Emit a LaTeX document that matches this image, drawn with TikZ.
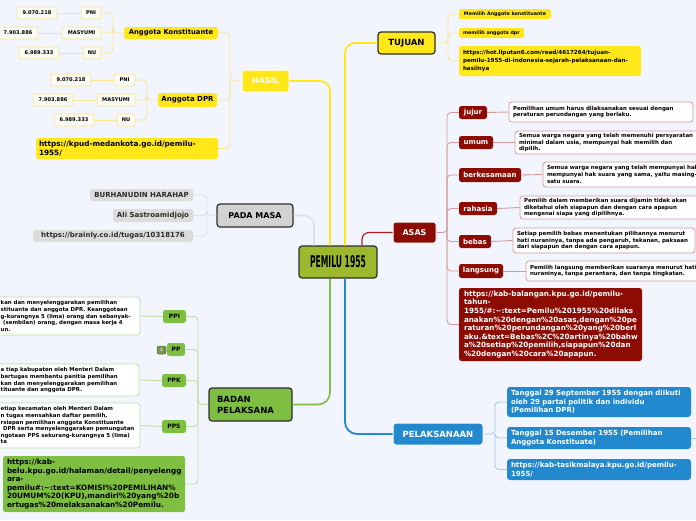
\documentclass[tikz,border=0pt]{standalone}
\usepackage{fontspec}
\setmainfont{DejaVu Sans}
\usepackage{graphicx}
\definecolor{bg}{RGB}{242,245,253}
\definecolor{yel}{RGB}{255,231,25}
\definecolor{yelln}{RGB}{248,230,140}
\definecolor{olive}{RGB}{158,184,46}
\definecolor{dk}{RGB}{45,45,45}
\definecolor{asred}{RGB}{140,12,4}
\definecolor{redln}{RGB}{212,155,155}
\definecolor{redmain}{RGB}{165,35,30}
\definecolor{blu}{RGB}{35,137,206}
\definecolor{bluln}{RGB}{160,200,235}
\definecolor{grn}{RGB}{126,190,64}
\definecolor{grnln}{RGB}{190,222,165}
\definecolor{gry}{RGB}{210,210,210}
\definecolor{gryl}{RGB}{220,220,220}
\definecolor{gryln}{RGB}{222,224,230}
\definecolor{pale}{RGB}{250,250,244}
\definecolor{badgec}{RGB}{118,150,78}
\newcommand{\fsz}[2]{\fontsize{#1}{#2}\selectfont}
\begin{document}
\begin{tikzpicture}[x=1pt,y=-1pt]
\tikzset{
  fnt/.style 2 args={font=\fsz{#1}{#2}\bfseries},
  sz/.style 2 args={minimum width=#1pt, minimum height=#2pt},
  every node/.style={inner sep=0pt, text=black},
  yelbox/.style={fill=yel, rounded corners=2.5pt, align=center},
  mainbox/.style={draw=dk, line width=1.2pt, rounded corners=3pt},
  smb/.style={fill=pale, draw=yelln, line width=0.8pt, rounded corners=2pt, fnt={5.1}{6}, minimum height=12pt},
  gbox/.style={fill=gryl, rounded corners=2.5pt, fnt={7}{8}, text=dk},
  rbox/.style={fill=asred, rounded corners=2.5pt, text=white, fnt={7}{8}},
  rdesc/.style={fill=white, draw=redln, line width=0.8pt, rounded corners=3pt, fnt={5.5}{6.7}, align=left, inner xsep=4pt},
  bbox/.style={fill=blu, rounded corners=3pt, text=white, fnt={7}{8.5}, align=left, inner xsep=4pt},
  gnbox/.style={fill=grn, rounded corners=2.5pt, fnt={6}{7}},
  gdesc/.style={fill=white, draw=grnln, line width=0.8pt, rounded corners=3pt},
  gtext/.style={fnt={5.4}{6.6}, align=left, anchor=north west},
  ymain/.style={draw=yel, line width=1.8pt, rounded corners=10pt},
  gmain/.style={draw=gryln, line width=1.6pt, rounded corners=10pt},
  rmain/.style={draw=redmain, line width=1.2pt, rounded corners=7pt},
  bmain/.style={draw=blu, line width=1.8pt, rounded corners=12pt},
  nmain/.style={draw=grn, line width=1.6pt, rounded corners=12pt},
  ylc/.style={draw=yelln, line width=0.9pt, rounded corners=4pt},
  gyc/.style={draw=gryln, line width=0.9pt, rounded corners=4pt},
  rdc/.style={draw=redln, line width=0.9pt, rounded corners=4pt},
  blc/.style={draw=bluln, line width=0.9pt, rounded corners=4pt},
  gnc/.style={draw=grnln, line width=0.9pt, rounded corners=4pt}
}
\useasboundingbox (0,0) rectangle (696,520);
\fill[bg] (0,0) rectangle (696,520);
\clip (0,0) rectangle (696,520);

% central
\node[mainbox, fill=olive, sz={78}{32}] (central) at (338,262) {\resizebox{56pt}{12pt}{\bfseries PEMILU 1955}};

% TUJUAN
\node[yelbox, mainbox, fnt={8.5}{10}, sz={57}{22}] (tujuan) at (406.5,43) {TUJUAN};
\node[yelbox, fnt={4.8}{5.5}, sz={92}{10}] (t1) at (505,14) {Memilih Anggota konstituante};
\node[yelbox, fnt={4.8}{5.5}, sz={65}{10}] (t2) at (491.5,33) {memilih anggota dpr};
\node[yelbox, fnt={5.6}{8.3}, sz={182}{30}, text width=174pt, align=left] (t3) at (550,61) {https://hot.liputan6.com/read/4617264/tujuan-\\pemilu-1955-di-indonesia-sejarah-pelaksanaan-dan-\\hasilnya};

% HASIL
\node[yelbox, draw=white, line width=1pt, text=white, fnt={8}{10}, sz={47}{22}] (hasil) at (265.5,81) {HASIL};
\node[yelbox, fnt={6.8}{8}, sz={94}{12}] (konst) at (171,33) {Anggota Konstituante};
\node[yelbox, fnt={7}{8}, sz={59}{14}] (dpr) at (187.5,100) {Anggota DPR};
\node[yelbox, fnt={7.3}{8.3}, sz={182}{21}, text width=176pt, align=left] (hurl) at (127,148.5) {https://kpud-medankota.go.id/pemilu-\\1955/};

\node[smb, minimum width=20pt] (kpni) at (91,13) {PNI};
\node[smb, minimum width=39pt] (kmas) at (81.5,33) {MASYUMI};
\node[smb, minimum width=18pt] (knu) at (92,53) {NU};
\node[smb, minimum width=40pt] (kv1) at (37,13) {9.070.218};
\node[smb, minimum width=40pt] (kv2) at (18,33) {7.903.886};
\node[smb, minimum width=40pt] (kv3) at (39,53) {6.989.333};
\node[smb, minimum width=21pt] (dpni) at (124.5,80) {PNI};
\node[smb, minimum width=38pt] (dmas) at (116,100) {MASYUMI};
\node[smb, minimum width=18pt] (dnu) at (126,120) {NU};
\node[smb, minimum width=40pt] (dv1) at (71,80) {9.070.218};
\node[smb, minimum width=40pt] (dv2) at (53,100) {7.903.886};
\node[smb, minimum width=40pt] (dv3) at (74,120) {6.989.333};

% PADA MASA
\node[mainbox, fill=gry, fnt={8}{10}, sz={76}{23}] (padamasa) at (255,215.5) {PADA MASA};
\node[gbox, sz={103}{12}] (p1) at (141.5,195) {BURHANUDIN HARAHAP};
\node[gbox, sz={80}{13}] (p2) at (153,215.5) {Ali Sastroamidjojo};
\node[gbox, sz={160}{12}] (p3) at (113,236) {https://brainly.co.id/tugas/10318176};

% ASAS
\node[rbox, draw=white, line width=1pt, fnt={8}{10}, sz={43}{21}] (asas) at (414.5,232.5) {ASAS};
\node[rbox, sz={28}{13}] (jujur) at (473,112.5) {jujur};
\node[rbox, sz={34}{13}] (umum) at (476,142.5) {umum};
\node[rbox, sz={62}{14}] (berk) at (490,175) {berkesamaan};
\node[rbox, sz={38}{13}] (rahasia) at (478,208.5) {rahasia};
\node[rbox, sz={32}{13}] (bebas) at (475,241.5) {bebas};
\node[rbox, sz={44}{14}] (langsung) at (481,271) {langsung};
\node[rdesc, sz={184}{20}, text width=176pt] (jujurd) at (601,112) {Pemilihan umum harus dilaksanakan sesuai dengan\\peraturan perundangan yang berlaku.};
\node[rdesc, sz={205}{23}, text width=197pt] (umumd) at (617.5,142.5) {Semua warga negara yang telah memenuhi persyaratan\\minimal dalam usia, mempunyai hak memilih dan\\dipilih.};
\node[rdesc, sz={187}{25}, text width=179pt] (berkd) at (636.5,174.5) {Semua warga negara yang telah mempunyai hak\\mempunyai hak suara yang sama, yaitu masing-\\satu suara.};
\node[rdesc, sz={185}{23}, text width=177pt] (rahasiad) at (612.5,207.5) {Pemilih dalam memberikan suara dijamin tidak akan\\diketahui oleh siapapun dan dengan cara apapun\\mengenai siapa yang dipilihnya.};
\node[rdesc, sz={182}{25}, text width=174pt] (bebasd) at (604,240.5) {Setiap pemilih bebas menentukan pilihannya menurut\\hati nuraninya, tanpa ada pengaruh, tekanan, paksaan\\dari siapapun dan dengan cara apapun.};
\node[rdesc, sz={194}{20}, text width=186pt] (langsungd) at (623,271) {Pemilih langsung memberikan suaranya menurut hati\\nuraninya, tanpa perantara, dan tanpa tingkatan.};
\node[rbox, fnt={7.2}{8.6}, align=left, inner xsep=5pt, sz={183}{73}, text width=173pt] (aurl) at (550.5,324.5) {https://kab-balangan.kpu.go.id/pemilu-\\tahun-\\1955/\#:\textasciitilde:text=Pemilu\%201955\%20dilaks\\anakan\%20dengan\%20asas,dengan\%20pe\\raturan\%20perundangan\%20yang\%20berl\\aku.\&text=Bebas\%2C\%20artinya\%20bahw\\a\%20setiap\%20pemilih,siapapun\%20dan\\\%20dengan\%20cara\%20apapun.};

% PELAKSANAAN
\node[fill=blu, draw=white, line width=1pt, rounded corners=3pt, text=white, fnt={8.5}{10}, sz={90}{22}] (pel) at (438,434) {PELAKSANAAN};
\node[bbox, sz={184}{30}, text width=176pt] (pl1) at (599,402) {Tanggal 29 September 1955 dengan diikuti\\oleh 29 partai politik dan individu\\(Pemilihan DPR)};
\node[bbox, sz={184}{22}, text width=176pt] (pl2) at (599,438) {Tanggal 15 Desember 1955 (Pemilihan\\Anggota Konstituate)};
\node[bbox, sz={184}{21}, text width=176pt] (pl3) at (599,469.5) {https://kab-tasikmalaya.kpu.go.id/pemilu-\\1955/};

% BADAN PELAKSANA
\node[mainbox, fill=grn, fnt={8.5}{11}, sz={83}{33}, text width=67pt, align=left] (badan) at (250.5,404.5) {BADAN\\PELAKSANA};
\node[gnbox, sz={23}{13}] (ppi) at (174.5,316.5) {PPI};
\node[gnbox, sz={18}{13}] (pp) at (176,349.5) {PP};
\node[fill=badgec, draw=badgec!70!black, line width=0.5pt, rounded corners=2pt, text=white!85!black, fnt={4.5}{5}, sz={9}{8}] (badge) at (161.5,350) {1};
\node[gnbox, sz={24}{13}] (ppk) at (174,380.5) {PPK};
\node[gnbox, sz={24}{13}] (pps) at (174,426.5) {PPS};
\node[gdesc, sz={180}{38}] (ppid) at (50,316) {};
\node[gdesc, sz={179}{32}] (ppkd) at (49.5,380) {};
\node[gdesc, sz={180}{45}] (ppsd) at (50,425.5) {};
\node[gtext] (ppit) at (0.5,300.5) {kan dan menyelenggarakan pemilihan\\stituante dan anggota DPR. Keanggotaan\\g-kurangnya 5 (lima) orang dan sebanyak-\\\hspace*{2.5pt}(sembilan) orang, dengan masa kerja 4\\un.};
\node[gtext] (ppkt) at (0.5,367.5) {a tiap kabupaten oleh Menteri Dalam\\bertugas membantu panitia pemilihan\\kan dan menyelenggarakan pemilihan\\tituante dan anggota DPR.};
\node[gtext] (ppst) at (0.5,406.5) {etiap kecamatan oleh Menteri Dalam\\n tugas mensahkan daftar pemilih,\\rsiapan pemilihan anggota Konstituante\\\hspace*{2.5pt}DPR serta menyelenggarakan pemungutan\\ngotaan PPS sekurang-kurangnya 5 (lima)\\ta};
\node[gnbox, fnt={7.3}{8.6}, align=left, inner xsep=4pt, sz={182}{56}, text width=174pt] (burl) at (94,484) {https://kab-\\belu.kpu.go.id/halaman/detail/penyelengg\\ara-\\pemilu\#:\textasciitilde:text=KOMISI\%20PEMILIHAN\%\\20UMUM\%20(KPU),mandiri\%20yang\%20b\\ertugas\%20melaksanakan\%20Pemilu.};

% main connectors
\draw[ymain] ([xshift=7pt]central.north) |- (tujuan.west);
\draw[ymain] ([xshift=-8pt]central.north) |- (hasil.east);
\draw[gmain] ([xshift=-24pt]central.north) |- (padamasa.east);
\draw[rmain] ([xshift=24pt]central.north) |- (asas.west);
\draw[bmain] ([xshift=7pt]central.south) |- (pel.west);
\draw[nmain] ([xshift=-8pt]central.south) |- (badan.east);

% TUJUAN children
\coordinate (tj) at (448,43);
\draw[ylc] (tujuan.east) -- (tj) |- (t1.west);
\draw[ylc] (tj) |- (t2.west);
\draw[ylc] (tj) |- (t3.west);

% HASIL children
\coordinate (hj) at (230,81);
\draw[ylc] (hasil.west) -- (hj) |- (konst.east);
\draw[ylc] (hj) |- (dpr.east);
\draw[ylc] (hj) |- (hurl.east);
\coordinate (kj) at (113,33);
\draw[ylc] (konst.west) -- (kj) |- (kpni.east);
\draw[ylc] (kj) |- (kmas.east);
\draw[ylc] (kj) |- (knu.east);
\coordinate (dj) at (147,100);
\draw[ylc] (dpr.west) -- (dj) |- (dpni.east);
\draw[ylc] (dj) |- (dmas.east);
\draw[ylc] (dj) |- (dnu.east);
\draw[ylc] (kv1.east) -- (kpni.west);
\draw[ylc] (kv2.east) -- (kmas.west);
\draw[ylc] (kv3.east) -- (knu.west);
\draw[ylc] (dv1.east) -- (dpni.west);
\draw[ylc] (dv2.east) -- (dmas.west);
\draw[ylc] (dv3.east) -- (dnu.west);

% PADA MASA children
\coordinate (pj) at (207,215.5);
\draw[gyc] (padamasa.west) -- (pj) |- (p1.east);
\draw[gyc] (pj) |- (p2.east);
\draw[gyc] (pj) |- (p3.east);

% ASAS children
\coordinate (aj) at (447,232.5);
\draw[rdc] (asas.east) -- (aj) |- (jujur.west);
\draw[rdc] (aj) |- (umum.west);
\draw[rdc] (aj) |- (berk.west);
\draw[rdc] (aj) |- (rahasia.west);
\draw[rdc] (aj) |- (bebas.west);
\draw[rdc] (aj) |- (langsung.west);
\draw[rdc] (aj) |- (aurl.west);
\draw[rdc] (jujur.east) -- (jujurd.west);
\draw[rdc] (umum.east) -- (umumd.west);
\draw[rdc] (berk.east) -- (berkd.west);
\draw[rdc] (rahasia.east) -- (rahasiad.west);
\draw[rdc] (bebas.east) -- (bebasd.west);
\draw[rdc] (langsung.east) -- (langsungd.west);

% PELAKSANAAN children
\coordinate (plj) at (495,434);
\coordinate (ple) at (705,438);
\draw[blc] (pel.east) -- (plj) |- (pl1.west);
\draw[blc] (plj) |- (pl2.west);
\draw[blc] (plj) |- (pl3.west);
\draw[blc] (pl2.east) -- (ple);

% BADAN children
\coordinate (bj) at (198,404.5);
\draw[gnc] (badan.west) -- (bj) |- (ppi.east);
\draw[gnc] (bj) |- (pp.east);
\draw[gnc] (bj) |- (ppk.east);
\draw[gnc] (bj) |- (pps.east);
\draw[gnc] (bj) |- (burl.east);
\draw[gnc] (ppi.west) -- (ppid.east);
\draw[gnc] (ppk.west) -- (ppkd.east);
\draw[gnc] (pps.west) -- (ppsd.east);
\end{tikzpicture}
\end{document}
